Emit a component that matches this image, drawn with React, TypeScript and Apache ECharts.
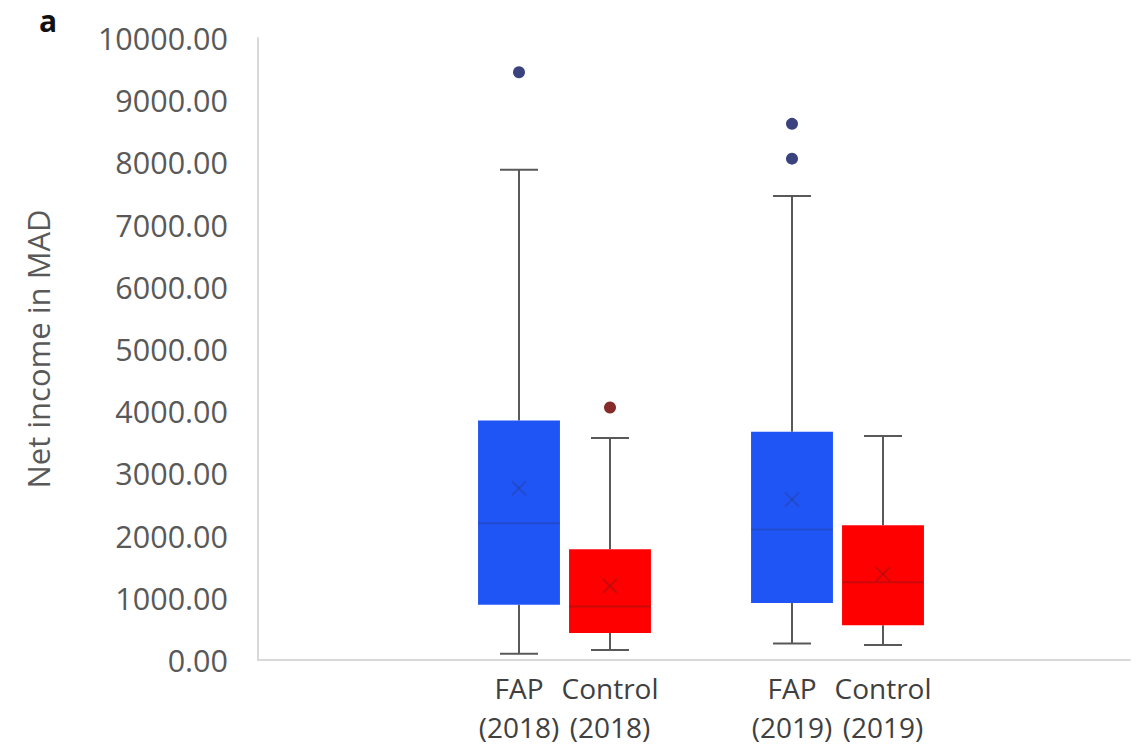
import React, { useEffect, useRef } from "react";
import * as echarts from "echarts";

// ---- data ----
const categories = ["FAP\n(2018)", "Control\n(2018)", "", "FAP\n(2019)", "Control\n(2019)"];
const boxCategory = [0, 1, 3, 4];
const boxMin = [100, 160, 265, 240];
const boxQ1 = [890, 435, 915, 560];
const boxMedian = [2200, 860, 2100, 1250];
const boxQ3 = [3850, 1780, 3670, 2165];
const boxMax = [7880, 3570, 7460, 3600];
const boxMean = [2760, 1190, 2580, 1380];
const fapOutliers = [[0, 9450], [3, 8620], [3, 8060]];
const controlOutliers = [[1, 4060]];

const boxFill = ["#1f55f4", "#ff0000", "#1f55f4", "#ff0000"];
const boxInner = ["rgba(40,60,150,0.4)", "rgba(150,20,20,0.5)", "rgba(40,60,150,0.4)", "rgba(150,20,20,0.5)"];

export default function App() {
  const ref = useRef<HTMLDivElement>(null);
  useEffect(() => {
    document.body.style.margin = "0";
    const chart = echarts.init(ref.current!, null, { renderer: "svg" });
    const font = "'Open Sans', 'Liberation Sans', sans-serif";
    const top = 38;
    const bottom = 89;
    const option: any = {
      animation: false,
      backgroundColor: "#ffffff",
      textStyle: { fontFamily: font },
      graphic: [
        { type: "text", left: 39, top: 5, style: { text: "a", fontSize: 30, fontWeight: "bold", fill: "#111", fontFamily: font } },
      ],
      grid: [
        { left: 258, right: 10, top, bottom },
        { left: 473.5, width: 455, top, bottom },
      ],
      xAxis: [
        {
          gridIndex: 0, type: "value", min: 0, max: 1,
          axisLine: { show: true, lineStyle: { color: "#d9d9d9", width: 2 } },
          axisTick: { show: false }, axisLabel: { show: false }, splitLine: { show: false },
        },
        {
          gridIndex: 1, type: "category", data: categories,
          axisLine: { show: false }, axisTick: { show: false },
          axisLabel: { fontSize: 28, color: "#404040", lineHeight: 39, margin: 8, fontFamily: font, interval: 0 },
        },
      ],
      yAxis: [
        {
          gridIndex: 0, type: "value", min: 0, max: 10000, interval: 1000,
          axisLine: { show: true, lineStyle: { color: "#d9d9d9", width: 2 } },
          axisTick: { show: false }, splitLine: { show: false },
          axisLabel: { fontSize: 30.5, color: "#595959", margin: 30, fontFamily: font, formatter: (v: number) => v.toFixed(2) },
          name: "Net income in MAD", nameLocation: "middle", nameGap: 205,
          nameTextStyle: { fontSize: 31, color: "#595959", fontFamily: font },
        },
        {
          gridIndex: 1, type: "value", min: 0, max: 10000, interval: 1000, show: false,
          splitLine: { show: false },
        },
      ],
      series: [
        {
          type: "custom",
          xAxisIndex: 1, yAxisIndex: 1,
          encode: { x: 0, y: [1, 2, 3, 4, 5, 6] },
          data: boxCategory.map((c, i) => [c, boxMin[i], boxQ1[i], boxMedian[i], boxQ3[i], boxMax[i], boxMean[i], i]),
          renderItem: (params: any, api: any) => {
            const c = api.value(0);
            const idx = api.value(7);
            const pMin = api.coord([c, api.value(1)]);
            const pQ1 = api.coord([c, api.value(2)]);
            const pMed = api.coord([c, api.value(3)]);
            const pQ3 = api.coord([c, api.value(4)]);
            const pMax = api.coord([c, api.value(5)]);
            const pMean = api.coord([c, api.value(6)]);
            const bw = api.size([1, 0])[0];
            const half = bw * 0.45;
            const cap = 19;
            const x = pMed[0];
            const ws = { stroke: "#595959", lineWidth: 2 };
            const m = 7;
            return {
              type: "group",
              children: [
                { type: "line", shape: { x1: x, y1: pMax[1], x2: x, y2: pQ3[1] }, style: ws },
                { type: "line", shape: { x1: x, y1: pQ1[1], x2: x, y2: pMin[1] }, style: ws },
                { type: "line", shape: { x1: x - cap, y1: pMax[1], x2: x + cap, y2: pMax[1] }, style: ws },
                { type: "line", shape: { x1: x - cap, y1: pMin[1], x2: x + cap, y2: pMin[1] }, style: ws },
                { type: "rect", shape: { x: x - half, y: pQ3[1], width: half * 2, height: pQ1[1] - pQ3[1] }, style: { fill: boxFill[idx] } },
                { type: "line", shape: { x1: x - half, y1: pMed[1], x2: x + half, y2: pMed[1] }, style: { stroke: boxInner[idx], lineWidth: 2 } },
                { type: "line", shape: { x1: x - m, y1: pMean[1] - m, x2: x + m, y2: pMean[1] + m }, style: { stroke: boxInner[idx], lineWidth: 2 } },
                { type: "line", shape: { x1: x - m, y1: pMean[1] + m, x2: x + m, y2: pMean[1] - m }, style: { stroke: boxInner[idx], lineWidth: 2 } },
              ],
            };
          },
        },
        {
          type: "scatter", xAxisIndex: 1, yAxisIndex: 1,
          data: fapOutliers, symbol: "circle", symbolSize: 12,
          itemStyle: { color: "#3a4280", opacity: 1 },
        },
        {
          type: "scatter", xAxisIndex: 1, yAxisIndex: 1,
          data: controlOutliers, symbol: "circle", symbolSize: 12,
          itemStyle: { color: "#862a2a", opacity: 1 },
        },
      ],
    };
    chart.setOption(option);
    return () => chart.dispose();
  }, []);
  return <div ref={ref} style={{ width: 1140, height: 749 }} />;
}
